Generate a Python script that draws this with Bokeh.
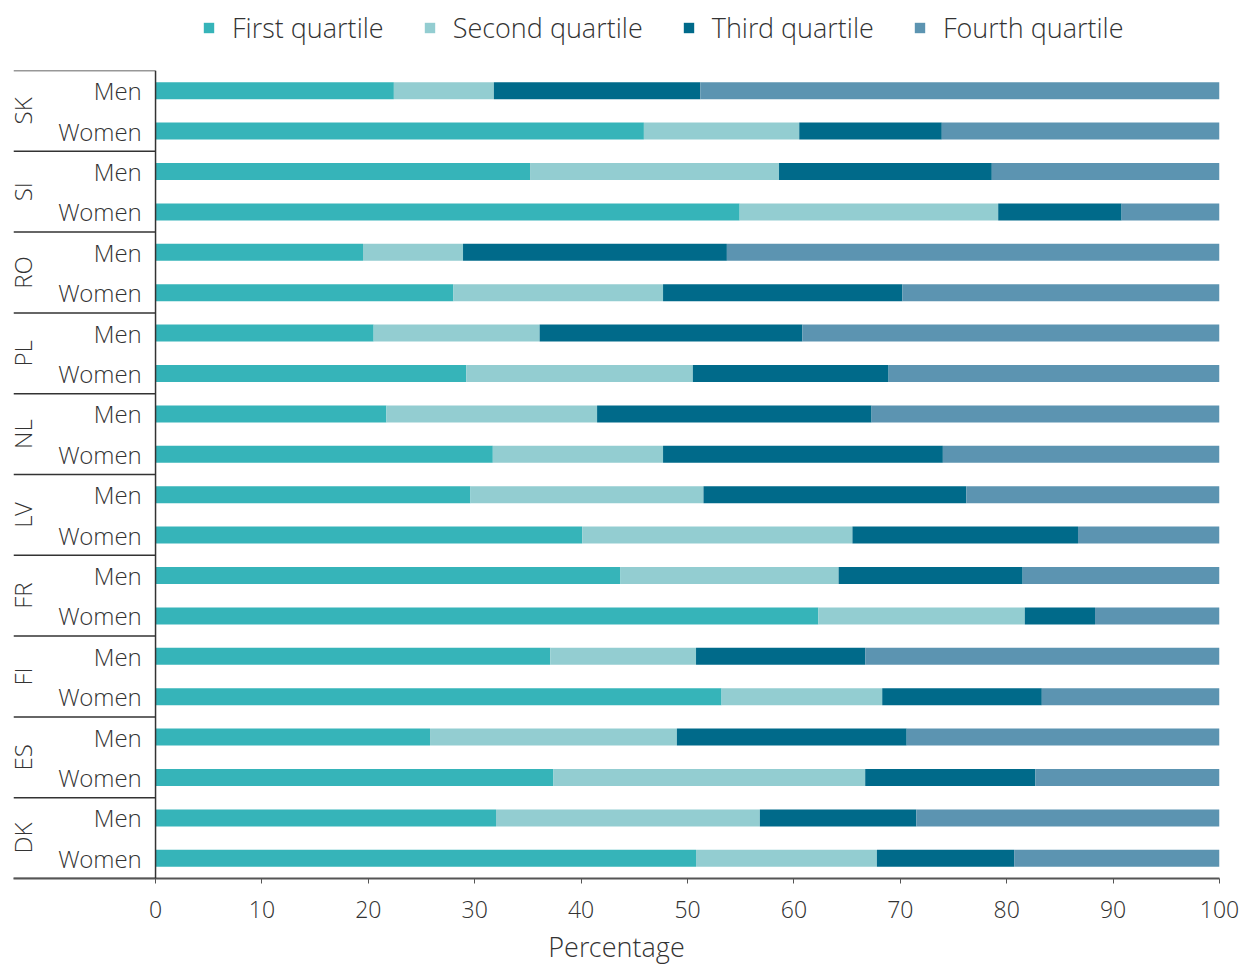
import math
from bokeh.plotting import figure
from bokeh.layouts import column
from bokeh.models import ColumnDataSource, FactorRange, Range1d, Legend, FixedTicker, Span
from bokeh.core.properties import value
from bokeh.embed import file_html
from bokeh.resources import INLINE

countries = ["SK", "SI", "RO", "PL", "NL", "LV", "FR", "FI", "ES", "DK"]
genders = ["Men", "Women"]
series_names = ["First quartile", "Second quartile", "Third quartile", "Fourth quartile"]
colors = ["#36b4b9", "#93cdd1", "#006a8a", "#5c94b1"]

# values in order: SK Men, SK Women, SI Men, SI Women, ...
first_q = [22.4, 45.9, 35.2, 54.9, 19.5, 28.0, 20.5, 29.2, 21.7, 31.7,
           29.6, 40.1, 43.7, 62.3, 37.1, 53.2, 25.8, 37.4, 32.0, 50.8]
second_q = [9.4, 14.6, 23.4, 24.3, 9.4, 19.7, 15.6, 21.3, 19.8, 16.0,
            21.9, 25.4, 20.5, 19.4, 13.7, 15.1, 23.2, 29.3, 24.8, 17.0]
third_q = [19.4, 13.4, 20.0, 11.6, 24.8, 22.5, 24.7, 18.4, 25.8, 26.3,
           24.7, 21.2, 17.3, 6.6, 15.9, 15.0, 21.6, 16.0, 14.7, 12.9]
fourth_q = [48.8, 26.1, 21.4, 9.2, 46.3, 29.8, 39.2, 31.1, 32.9, 26.0,
            23.8, 13.5, 18.5, 11.7, 33.3, 16.7, 29.4, 17.3, 28.5, 19.5]
x_ticks = [0, 10, 20, 30, 40, 50, 60, 70, 80, 90, 100]

FONT = "Open Sans Light, Open Sans"
TXT = "#333333"
LINE = "#333333"

factors = [(c, g) for c in countries for g in genders]
source = ColumnDataSource(data={
    "y": factors,
    "gender": [g for c in countries for g in genders],
    series_names[0]: first_q,
    series_names[1]: second_q,
    series_names[2]: third_q,
    series_names[3]: fourth_q,
})

# ---------- legend strip (its zero-height bars lie outside its view; only the legend shows) ----------
leg_fig = figure(width=1242, height=68, x_range=Range1d(1000, 1100),
                 y_range=FactorRange(*list(reversed(factors)), group_padding=0),
                 output_backend="svg", toolbar_location=None,
                 x_axis_location=None, y_axis_location=None,
                 min_border_left=0, min_border_right=0, min_border_top=0, min_border_bottom=0)
leg_fig.outline_line_color = None
leg_fig.grid.visible = False
leg_renderers = leg_fig.hbar_stack(series_names, y="y", height=0, color=colors,
                                   source=source, line_width=0)
legend = Legend(items=[(n, [r]) for n, r in zip(series_names, leg_renderers)],
                orientation="horizontal", location=(189, 22),
                glyph_width=13, glyph_height=13, label_standoff=17, spacing=39,
                padding=0, margin=0, border_line_color=None, background_fill_alpha=0,
                label_text_font=FONT, label_text_font_size="27px", label_text_color=TXT)
leg_fig.add_layout(legend)

# ---------- main chart ----------
p = figure(width=1242, height=899,
           y_range=FactorRange(*list(reversed(factors)), group_padding=0, factor_padding=0, range_padding=0),
           x_range=Range1d(-13.35, 100),
           output_backend="svg", toolbar_location=None,
           min_border_left=13, min_border_right=23, min_border_top=2, min_border_bottom=88)
p.outline_line_color = None
p.grid.visible = False
p.yaxis.visible = False

p.hbar_stack(series_names, y="y", height=0.42, color=colors, source=source, line_width=0)

# y axis line at zero
p.add_layout(Span(location=0, dimension="height", line_color=LINE, line_width=1.5))

# gender labels
p.text(x=-1.3, y="y", text="gender", source=source, text_align="right", text_baseline="middle",
       text_font=value(FONT), text_font_size="24px", text_color=TXT)

# country labels (centre of each group)
p.text(x=[-12.5] * len(countries), y=countries, text=countries, angle=math.pi / 2,
       text_align="center", text_baseline="middle",
       text_font=value(FONT), text_font_size="24px", text_color=TXT)

# group separators
sep_y = [(c, genders[0], 0.5) for c in countries] + [(countries[-1], genders[-1], -0.5)]
p.segment(x0=[-13.35] * len(sep_y), x1=[0] * len(sep_y), y0=sep_y, y1=sep_y,
          line_color=LINE, line_width=1.5)

xa = p.xaxis[0]
xa.ticker = FixedTicker(ticks=x_ticks)
xa.minor_tick_line_color = None
xa.major_tick_in = 0
xa.major_tick_out = 5
xa.major_tick_line_color = "#555555"
xa.axis_line_color = "#555555"
xa.axis_line_width = 2
xa.major_label_standoff = 17
xa.major_label_text_font = FONT
xa.major_label_text_font_size = "23px"
xa.major_label_text_color = TXT
xa.axis_label = "Percentage"
xa.axis_label_text_font = FONT
xa.axis_label_text_font_size = "27px"
xa.axis_label_text_font_style = "normal"
xa.axis_label_text_color = TXT
xa.axis_label_standoff = 7

layout = column(leg_fig, p, spacing=0)
open("out.html", "w").write(file_html(layout, INLINE))
